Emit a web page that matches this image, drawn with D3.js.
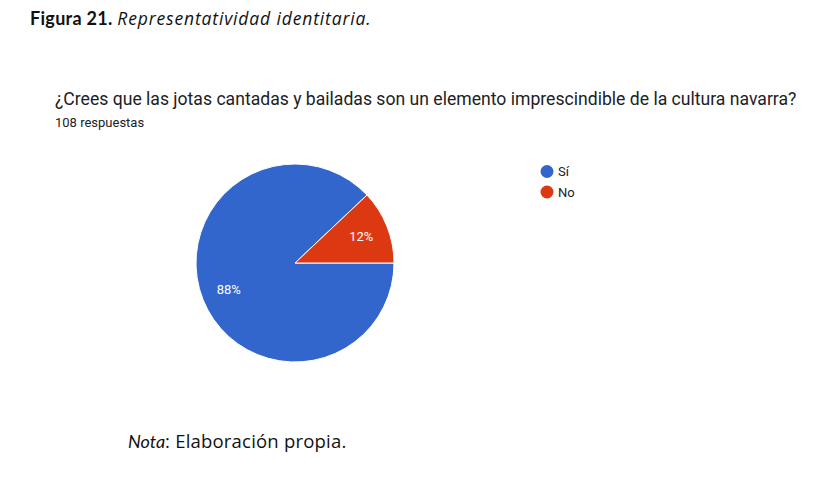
<!DOCTYPE html>
<html>
<head>
<meta charset="utf-8">
<script src="https://cdn.jsdelivr.net/npm/d3@7"></script>
<style>
  body { margin: 0; background: #fff; }
</style>
</head>
<body>
<svg id="chart" width="823" height="501"></svg>
<script>
// Data
const categories = ["Sí", "No"];
const counts = [95, 13];
const percentLabels = ["88%", "12%"];
const colors = ["#3366cc", "#dc3912"];

const svg = d3.select("#chart");

// Figure caption
const cap = svg.append("text")
  .attr("x", 30).attr("y", 25)
  .attr("fill", "#111");
cap.append("tspan")
  .style("font-family", "Lato, sans-serif")
  .style("font-size", "18px")
  .style("font-weight", "bold")
  .style("letter-spacing", "0.3px")
  .text("Figura 21. ");
cap.append("tspan")
  .style("font-family", "'Open Sans', sans-serif")
  .style("font-size", "17.5px")
  .style("font-style", "italic")
  .style("letter-spacing", "0.85px")
  .text("Representatividad identitaria.");

// Question title
svg.append("text")
  .attr("x", 55).attr("y", 105)
  .style("font-family", "Roboto, sans-serif")
  .style("font-size", "17.6px")
  .attr("fill", "#202124")
  .text("¿Crees que las jotas cantadas y bailadas son un elemento imprescindible de la cultura navarra?");

svg.append("text")
  .attr("x", 55).attr("y", 127)
  .style("font-family", "Roboto, sans-serif")
  .style("font-size", "13px")
  .attr("fill", "#202124")
  .text("108 respuestas");

// Pie
const cx = 295, cy = 263, radius = 99;
const pie = d3.pie()
  .sort(null)
  .startAngle(Math.PI / 2)
  .endAngle(Math.PI / 2 + 2 * Math.PI);
const arcs = pie(counts);
const arc = d3.arc().innerRadius(0).outerRadius(radius);
const labelArc = d3.arc().innerRadius(radius * 0.72).outerRadius(radius * 0.72);

const g = svg.append("g").attr("transform", `translate(${cx},${cy})`);

g.selectAll("path")
  .data(arcs)
  .join("path")
  .attr("d", arc)
  .attr("fill", (d, i) => colors[i])
  .attr("stroke", "#fff")
  .attr("stroke-width", 1);

g.selectAll("text.pct")
  .data(arcs)
  .join("text")
  .attr("class", "pct")
  .attr("transform", d => `translate(${labelArc.centroid(d)})`)
  .attr("text-anchor", "middle")
  .attr("dy", "0.35em")
  .style("font-family", "Roboto, sans-serif")
  .style("font-size", "13px")
  .attr("fill", "#fff")
  .text((d, i) => percentLabels[i]);

// Legend
const legend = svg.append("g").attr("transform", "translate(547,171.5)");
const item = legend.selectAll("g")
  .data(categories)
  .join("g")
  .attr("transform", (d, i) => `translate(0,${i * 20.5})`);
item.append("circle")
  .attr("r", 6.5)
  .attr("fill", (d, i) => colors[i]);
item.append("text")
  .attr("x", 11)
  .attr("dy", "0.36em")
  .style("font-family", "Roboto, sans-serif")
  .style("font-size", "13px")
  .attr("fill", "#222")
  .text(d => d);

// Note
const note = svg.append("text")
  .attr("x", 128).attr("y", 448)
  .attr("fill", "#111");
note.append("tspan")
  .style("font-family", "Lato, sans-serif")
  .style("font-size", "18px")
  .style("font-style", "italic")
  .text("Nota");
note.append("tspan")
  .style("font-family", "'Open Sans', sans-serif")
  .style("font-size", "18.5px")
  .style("letter-spacing", "0.2px")
  .text(": Elaboración propia.");
</script>
</body>
</html>
